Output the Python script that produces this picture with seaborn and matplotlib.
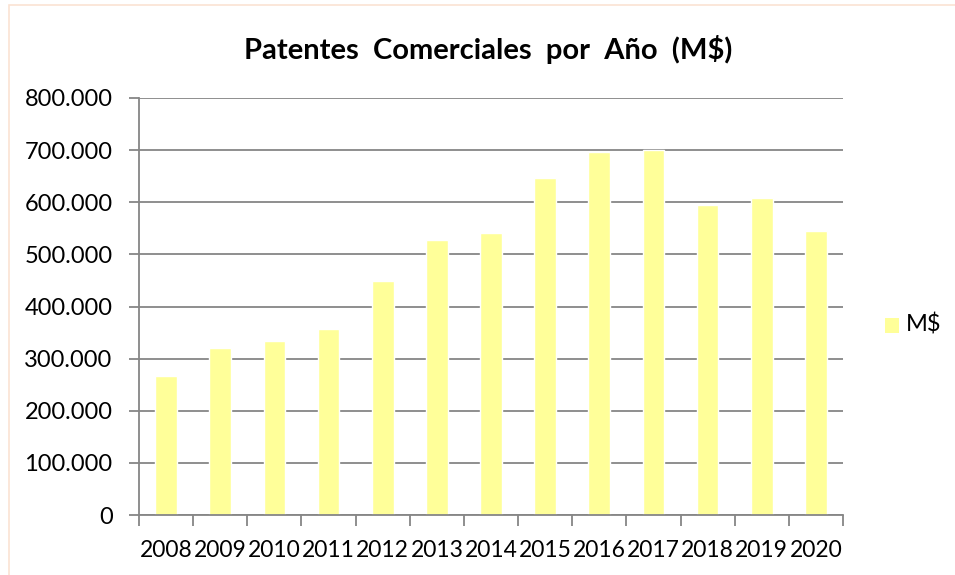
import numpy as np
import pandas as pd
import seaborn as sns
import matplotlib.pyplot as plt
from matplotlib.patches import Rectangle
from matplotlib.ticker import FuncFormatter, FixedLocator

# --- DATEN ---
years = ["2008", "2009", "2010", "2011", "2012", "2013", "2014",
         "2015", "2016", "2017", "2018", "2019", "2020"]
values = [267000, 320000, 333000, 356000, 449000, 527000, 541000,
          647000, 696000, 701000, 595000, 609000, 544000]
series_name = "M$"
title_text = "Patentes  Comerciales  por  Año  (M$)"

BAR_COLOR = "#FFFF99"
GRID_COLOR = "#868686"

sns.set_theme(style="white")
plt.rcParams["font.family"] = ["Lato", "DejaVu Sans"]
plt.rcParams["text.color"] = "black"

df = pd.DataFrame({"Jahr": years, "Wert": values, "Serie": series_name})

fig = plt.figure(figsize=(9.55, 5.75), dpi=100)
ax = fig.add_axes([139 / 955, 1 - 515 / 575, (843 - 139) / 955, (515 - 98) / 575])

sns.barplot(data=df, x="Jahr", y="Wert", hue="Serie", palette=[BAR_COLOR],
            saturation=1, width=0.4, ax=ax, legend=False)

ax.set_ylim(0, 800000)
ax.set_xlim(-0.5, len(years) - 0.5)
ax.set_yticks(np.arange(0, 800001, 100000))
ax.yaxis.set_major_formatter(FuncFormatter(lambda v, p: f"{v:,.0f}".replace(",", ".")))
ax.grid(axis="y", color=GRID_COLOR, linewidth=1.3)
ax.set_axisbelow(True)
ax.set_xlabel("")
ax.set_ylabel("")

for s in ["top", "right"]:
    ax.spines[s].set_visible(False)
for s in ["left", "bottom"]:
    ax.spines[s].set_color(GRID_COLOR)
    ax.spines[s].set_linewidth(1.3)

# Ticks zwischen den Kategorien
ax.xaxis.set_minor_locator(FixedLocator(np.arange(-0.5, len(years), 1.0)))
ax.tick_params(axis="x", which="major", length=0, labelsize=16.5, pad=18,
               labelcolor="black")
ax.tick_params(axis="x", which="minor", length=8, width=1.3, color=GRID_COLOR, bottom=True)
ax.tick_params(axis="y", which="major", length=7, width=1.3, color=GRID_COLOR,
               labelsize=17, pad=12, left=True, labelcolor="black")

fig.text(0.511, 1 - 50 / 575, title_text, ha="center", va="center",
         fontsize=21, fontweight="bold", color="black")

# Legende
fig.patches.append(Rectangle((885 / 955, 1 - 333 / 575), 14 / 955, 15 / 575,
                             transform=fig.transFigure, facecolor=BAR_COLOR,
                             edgecolor="none"))
fig.text(906 / 955, 1 - 325 / 575, series_name, ha="left", va="center",
         fontsize=17, color="black")

# Rahmen
fig.patches.append(Rectangle((9 / 955, -0.1), 1.0, 1.1 - 5 / 575,
                             transform=fig.transFigure, facecolor="none",
                             edgecolor="#FBE3D3", linewidth=1.2))

plt.savefig("out.png", dpi=100)
plt.close()
